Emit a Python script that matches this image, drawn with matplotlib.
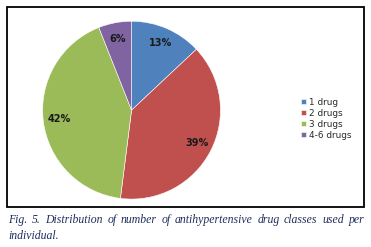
import matplotlib
matplotlib.use("Agg")
import matplotlib.pyplot as plt
from matplotlib.patches import Rectangle

#Data
labels = ["1 drug", "2 drugs", "3 drugs", "4-6 drugs"]
shares = [13, 39, 42, 6]
colors = ["#4F81BD", "#C0504D", "#9BBB59", "#8064A2"]
caption1 = "Fig. 5. Distribution of number of antihypertensive drug classes used per"
caption2 = "individual."

fig = plt.figure(figsize=(3.71, 2.47), dpi=100)
fig.patch.set_facecolor("white")

#Frame around chart
fig.patches.append(Rectangle((7.5/371, 40/247), 356.5/371, 200/247, transform=fig.transFigure,
                             fill=False, edgecolor="black", linewidth=1.3))

ax = fig.add_axes([0.1146, 0.194, 0.48, 0.72])
wedges, texts, autotexts = ax.pie(shares, colors=colors, startangle=90, counterclock=False,
                                  autopct="%d%%", pctdistance=0.82,
                                  wedgeprops=dict(edgecolor="white", linewidth=0.4),
                                  textprops=dict(fontsize=7, fontweight="bold", color="#1a1a1a"))
ax.set_xlim(-1, 1)
ax.set_ylim(-1, 1)
ax.set_aspect("equal")
ax.axis("off")

leg = fig.legend(wedges, labels, loc="upper left", bbox_to_anchor=(0.80, 0.622),
                 frameon=False, fontsize=6.4, handlelength=0.55, handleheight=0.55,
                 handletextpad=0.35, labelspacing=0.22, borderpad=0)
for t in leg.get_texts():
    t.set_color("#2a2a2a")

#Caption, first line justified
cap = dict(family="Liberation Serif", style="italic", fontsize=8.5, color="#1f2d5c")
fig.canvas.draw()
r = fig.canvas.get_renderer()
words = caption1.split()
x0, x1 = 8/371, 364/371
y1 = 1-220/247
objs = [fig.text(0, y1, w, ha="left", va="center", **cap) for w in words]
widths = [o.get_window_extent(r).width/371 for o in objs]
gap = (x1 - x0 - sum(widths)) / (len(words) - 1)
x = x0
for o, w in zip(objs, widths):
    o.set_x(x)
    x += w + gap
fig.text(x0, 1-236/247, caption2, ha="left", va="center", **cap)

fig.savefig("out.png", dpi=100)
plt.close()
